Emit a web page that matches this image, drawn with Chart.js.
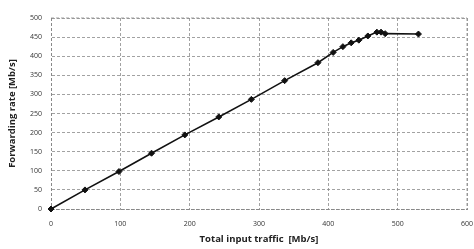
<!DOCTYPE html>
<html>
<head>
<meta charset="utf-8">
<script src="https://cdn.jsdelivr.net/npm/chart.js@4"></script>
<style>
  html, body { margin: 0; padding: 0; background: #fff; }
  #wrap { width: 474px; height: 249px; }
</style>
</head>
<body>
<div id="wrap"><canvas id="fwdChart" width="474" height="249"></canvas></div>
<script>
// input traffic vs forwarding rate
const inputTraffic = [0, 49, 98, 145, 193, 242, 289, 337, 385, 407, 421, 433, 444, 457, 470, 476, 482, 530];
const forwardRate  = [0, 50, 98, 146, 194, 241, 287, 336, 383, 410, 425, 435, 442, 453, 463, 463, 459, 458];

const points = inputTraffic.map((x, i) => ({ x: x, y: forwardRate[i] }));

const tickFont = { family: 'Open Sans', size: 7 };
const titleFont = { family: 'Open Sans', size: 9.5, weight: 'bold' };

const ctx = document.getElementById('fwdChart').getContext('2d');
const chart = new Chart(ctx, {
  type: 'scatter',
  data: {
    datasets: [{
      data: points,
      showLine: true,
      clip: false,
      borderColor: '#111',
      backgroundColor: '#111',
      borderWidth: 1.6,
      pointStyle: 'rectRot',
      pointRadius: 3,
      pointBorderWidth: 1
    }]
  },
  options: {
    responsive: false,
    animation: false,
    layout: { padding: { top: 18, right: 7, left: 3, bottom: 0 } },
    plugins: { legend: { display: false }, tooltip: { enabled: false } },
    scales: {
      x: {
        type: 'linear',
        min: 0, max: 600,
        ticks: { stepSize: 100, font: tickFont, color: '#333', padding: 11, maxRotation: 0 },
        grid: { color: '#8a8a8a', lineWidth: 0.8, tickLength: 0 },
        border: { display: true, color: '#888', dash: [3, 2] },
        title: { display: true, text: 'Total input traffic  [Mb/s]', font: titleFont, color: '#222', padding: { top: 6 } },
        afterFit: (scale) => { scale.height = 40; scale.paddingLeft = 0; scale.paddingRight = 0; }
      },
      y: {
        min: 0, max: 500,
        ticks: { stepSize: 50, font: tickFont, color: '#333', padding: 9 },
        grid: { color: '#8a8a8a', lineWidth: 0.8, tickLength: 0 },
        border: { display: true, color: '#888', dash: [3, 2] },
        title: { display: true, text: 'Forwarding rate [Mb/s]', font: titleFont, color: '#222', padding: { bottom: 4 } },
        afterFit: (scale) => { scale.width = 48; scale.paddingTop = 0; scale.paddingBottom = 0; }
      }
    }
  },
  plugins: [{
    id: 'dashGrid',
    beforeDraw(c) {
      c.ctx.save();
      c.ctx.setLineDash([3, 2]);
    },
    beforeDatasetsDraw(c) {
      c.ctx.restore();
    }
  }, {
    id: 'frame',
    afterDraw(c) {
      const a = c.chartArea;
      const g = c.ctx;
      g.save();
      g.strokeStyle = '#888';
      g.lineWidth = 0.8;
      g.setLineDash([3, 2]);
      g.beginPath();
      g.moveTo(a.right, a.top);
      g.lineTo(a.right, a.bottom);
      g.moveTo(a.left, a.top);
      g.lineTo(a.right, a.top);
      g.stroke();
      g.restore();
    }
  }]
});
</script>
</body>
</html>
